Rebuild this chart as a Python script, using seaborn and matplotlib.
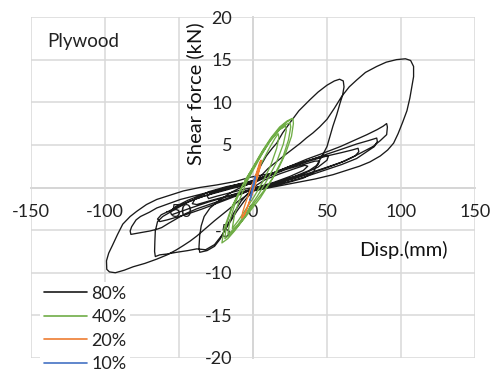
import matplotlib
matplotlib.use("Agg")
import matplotlib.pyplot as plt
import seaborn as sns
import pandas as pd
from matplotlib.ticker import FuncFormatter

# ---------------- data ----------------
series_names = ["80%", "40%", "20%", "10%"]
series_colors = ["#1a1a1a", "#70ad47", "#ed7d31", "#4472c4"]

x_ticks = [-150, -100, -50, 0, 50, 100, 150]
y_ticks = [-20, -15, -10, -5, 0, 5, 10, 15, 20]

# 80 % record: displacement (mm)
x80 = [0,
       # cycle 1
       8, 18, 28, 35, 37, 34, 25, 14, 4,
       -6, -15, -24, -30, -31, -27, -18, -8, 0,
       # cycle 2
       10, 22, 34, 42, 45, 44, 38, 28, 16, 5,
       -5, -15, -28, -38, -41, -39, -30, -18, -6, 0,
       # cycle 3
       12, 25, 38, 48, 51, 50, 44, 34, 20, 8, 0,
       -4, -8, -13, -18, -22, -26, -31, -36, -36.5, -36, -35, -33, -29, -22, -14, -6, 0,
       # cycle 4 (60 mm loop)
       3, 6, 9, 13, 16, 20, 25, 31, 38.5, 44, 50, 55, 58.5, 61, 61.5, 60.5, 59, 56.5,
       54, 52, 50, 47, 44, 40.5, 34, 24, 12, 0,
       -6, -11, -16, -21, -26, -32, -38, -44, -51.6, -58, -63, -66, -66.5, -66.3, -66,
       -64.5, -61, -57, -50, -42.6, -33, -24.5, -14, -4, 0,
       # cycle 5 (largest loop)
       5, 10, 15, 20, 26, 32, 36, 40.5, 45, 50, 55, 60, 65, 70, 76, 83.6, 90, 97, 103,
       106.5, 108.5, 108.5, 107.5, 106, 104, 101, 98, 95, 91, 86, 79, 72, 63, 54, 42,
       30, 15, 0,
       -5, -10, -16, -21, -26, -30, -34, -38, -42.6, -47, -51.6, -58, -65, -73, -81,
       -87, -93, -97, -98.8, -99, -97.5, -95, -91.5, -88, -83, -78.6, -72, -65, -56,
       -47, -36, -24.5, -12, -2,
       # cycle 6
       13.7, 25, 36, 47, 59, 68, 77, 84, 88, 90.3, 90.8, 90.3, 86, 81, 70, 59, 48, 36,
       24, 13.5, 4, 0,
       -8, -18, -28, -38, -46, -52, -57, -61.7, -65, -69.6, -76, -82.5, -83, -82, -79,
       -76, -70, -65, -57, -49, -40, -31, -20, -9, 0,
       # cycle 7
       10, 22, 35, 48, 60, 70, 78, 83.6, 84, 82, 76, 70, 60, 48, 36, 24, 12, 0,
       -10, -22, -34, -44, -52, -58, -63, -64.5, -62, -56, -48, -38, -26, -14, -4, 0,
       # cycle 8
       12, 25, 38, 50, 60, 67, 71, 71.5, 69, 62, 52, 40, 28, 15, 4,
       -8, -18, -30, -42, -50, -55, -56, -52, -44, -34, -22, -10, 0]

# 80 % record: shear force (kN)
y80 = [0,
       0.9, 1.6, 2.2, 2.6, 2.5, 2.0, 1.3, 0.6, 0.1,
       -0.2, -0.6, -1.0, -1.3, -1.0, -0.5, 0.0, 0.4, 0.7,
       1.3, 2.1, 2.7, 3.1, 3.1, 2.7, 2.0, 1.3, 0.6, 0.1,
       -0.4, -0.9, -1.5, -2.0, -1.9, -1.3, -0.5, 0.1, 0.5, 0.8,
       1.6, 2.5, 3.2, 3.7, 3.7, 3.2, 2.4, 1.6, 0.8, 0.2, -0.2,
       -0.8, -1.6, -3.0, -4.6, -6.0, -6.9, -7.4, -7.6, -7.0, -5.6, -4.5, -3.4, -2.4, -1.4, -0.5, 0.2, 0.6,
       1.8, 2.8, 3.7, 4.6, 5.2, 6.4, 7.6, 9.0, 10.3, 11.2, 12.0, 12.5, 12.7, 12.5, 11.8, 10.8, 10.0, 8.5,
       7.2, 6.0, 4.8, 3.8, 2.9, 1.7, 1.1, 0.6, 0.1, -0.4,
       -1.6, -2.8, -4.2, -5.6, -6.7, -7.3, -7.2, -7.4, -7.6, -7.8, -7.9, -8.1, -7.5, -6.3, -5.1,
       -4.0, -3.4, -3.0, -2.3, -1.6, -1.0, -0.6, -0.1, 0.35, 0.5,
       1.3, 2.2, 2.9, 3.6, 4.4, 5.2, 5.8, 6.4, 7.1, 8.0, 9.3, 10.7, 11.8, 12.6, 13.5, 14.2, 14.7, 15.0, 15.1,
       14.9, 14.2, 13.0, 12.0, 10.5, 9.0, 7.6, 6.3, 5.2, 4.4, 3.7, 3.0, 2.5, 2.0, 1.5, 1.0,
       0.6, 0.1, -0.4,
       -1.0, -1.6, -2.5, -3.2, -3.9, -4.5, -5.1, -5.7, -6.3, -6.8, -7.3, -7.9, -8.4, -8.9, -9.3,
       -9.7, -10.0, -9.9, -9.6, -8.6, -7.7, -6.8, -5.5, -4.3, -3.4, -2.8, -2.0, -1.4, -0.9,
       -0.4, 0.0, 0.3, 0.7, 1.2,
       1.7, 2.5, 3.3, 4.0, 4.8, 5.5, 6.2, 6.8, 7.2, 7.5, 7.1, 6.2, 5.5, 4.8, 3.8, 2.9, 2.2, 1.5,
       0.9, 0.35, 0.0, -0.2,
       -0.7, -1.3, -1.9, -2.5, -3.1, -3.7, -4.2, -4.7, -4.9, -5.1, -5.3, -5.5, -5.1, -4.6, -3.8,
       -3.4, -2.9, -2.4, -1.9, -1.4, -1.0, -0.6, -0.2, 0.15, 0.5,
       1.3, 2.2, 3.0, 3.8, 4.5, 5.1, 5.5, 5.8, 5.4, 4.8, 4.1, 3.4, 2.7, 2.0, 1.3, 0.7, 0.2, -0.2,
       -0.9, -1.7, -2.5, -3.1, -3.5, -3.8, -4.0, -3.7, -3.2, -2.7, -2.0, -1.3, -0.6, 0.0, 0.5, 0.7,
       1.6, 2.4, 3.1, 3.7, 4.1, 4.4, 4.6, 4.2, 3.7, 3.1, 2.5, 1.8, 1.1, 0.5, 0.0,
       -0.6, -1.1, -1.7, -2.4, -2.9, -3.2, -2.8, -2.2, -1.5, -0.8, -0.2, 0.4, 0.8]

# 40 % record
x40 = [0, 5, 11, 15, 17, 17.5, 16, 12, 7, 1, -5, -10, -14,
       -12.5, -9, -5, 0, 6, 12, 18, 22, 22.5, 20.5, 16, 10, 3, -4, -10, -15, -17,
       -15.5, -12, -7.5, -2, 4, 11, 18, 22.5, 25, 25.5, 24, 19.5, 13, 5, -3, -10, -16, -19,
       -18, -14, -9, -4, 1, 7, 13, 19, 23, 26, 27, 27.3, 26, 22, 16, 9, 1, -6, -12, -17, -21,
       -19.5, -15, -10, -5, 0, 6, 12, 18, 23, 26.5]
y40 = [0, 2.6, 4.6, 5.8, 6.3, 5.9, 4.6, 2.6, 0.8, -1.0, -2.6, -3.9, -4.8,
       -3.2, -1.4, 0.4, 2.0, 3.9, 5.6, 6.8, 7.2, 6.7, 5.1, 3.0, 1.0, -1.0, -2.8, -4.3, -5.2, -5.5,
       -3.8, -1.8, 0.0, 1.6, 3.4, 5.3, 6.8, 7.4, 7.6, 7.1, 5.6, 3.2, 1.0, -1.2, -3.0, -4.5, -5.6, -6.0,
       -4.4, -2.2, -0.4, 1.2, 2.6, 4.4, 5.9, 7.1, 7.7, 8.0, 8.1, 7.5, 6.0, 4.0, 1.8, 0.0, -1.8, -3.6, -5.0, -6.0, -6.5,
       -4.8, -2.6, -0.8, 0.9, 2.4, 4.2, 5.8, 7.1, 7.8, 8.1]

# 20 % record
x20 = [0, 2, 4, 5.2, 5, 3, 1, -1.5, -4, -6, -7.6, -7, -5, -2.5, 0, 2.5, 4.5, 5.5, 4.6, 2.2, -0.5, -3, -5.5, -7.2]
y20 = [0, 1.3, 2.4, 3.1, 2.5, 1.2, 0.0, -1.2, -2.4, -3.2, -3.6, -2.9, -1.8, -0.6, 0.6, 1.8, 2.9, 3.2, 2.4, 0.9, -0.7, -2.0, -3.1, -3.5]

# 10 % record
x10 = [0, 0.8, 1.4, 1.2, 0.4, -0.6, -1.6, -2.0, -1.6, -0.8, 0, 1.0, 1.5]
y10 = [0, 0.7, 1.2, 0.9, 0.1, -0.6, -1.3, -1.5, -1.0, -0.3, 0.3, 1.0, 1.3]

# ---------------- table for seaborn ----------------
frames = []
for name, xs, ys in zip(series_names, [x80, x40, x20, x10], [y80, y40, y20, y10]):
    frames.append(pd.DataFrame({"disp": xs, "force": ys, "series": name}))
df = pd.concat(frames, ignore_index=True)

sns.set_style("white")
plt.rcParams["font.family"] = ["Lato", "DejaVu Sans"]

W, H = 494, 371
fig = plt.figure(figsize=(W / 100, H / 100), dpi=100)
ax = fig.add_axes([31 / W, 1 - 358 / H, (475 - 31) / W, (358 - 17) / H])

palette = dict(zip(series_names, series_colors))
sns.lineplot(data=df, x="disp", y="force", hue="series", hue_order=series_names,
             palette=palette, sort=False, estimator=None, units="series",
             linewidth=0.95, ax=ax, legend=False)

ax.set_xlim(-150, 150)
ax.set_ylim(-20, 20)
ax.set_xticks(x_ticks)
ax.set_yticks(y_ticks)
ax.grid(True, color="#d9d9d9", linewidth=1.1)
ax.set_axisbelow(True)
for gl in ax.get_xgridlines() + ax.get_ygridlines():
    gl.set_clip_on(False)

for s in ["top", "right"]:
    ax.spines[s].set_visible(False)
for s in ["left", "bottom"]:
    ax.spines[s].set_position(("data", 0))
    ax.spines[s].set_color("#bfbfbf")
    ax.spines[s].set_linewidth(1.1)
    ax.spines[s].set_zorder(0.5)

ax.tick_params(axis="both", length=0, labelsize=13, labelcolor="#222222")
ax.tick_params(axis="y", pad=15)
ax.tick_params(axis="x", pad=12)
ax.yaxis.set_major_formatter(FuncFormatter(lambda v, p: "" if v == 0 else f"{v:g}"))
ax.xaxis.set_major_formatter(FuncFormatter(lambda v, p: f"{v:g}"))
ax.set_xlabel("")
ax.set_ylabel("")

fig.text(195 / W, 1 - 94 / H, "Shear force (kN)", rotation=90, ha="center", va="center",
         fontsize=14.5, color="#111111")
fig.text(403 / W, 1 - 250 / H, "Disp.(mm)", ha="center", va="center",
         fontsize=14.5, color="#111111")
fig.text(47 / W, 1 - 41 / H, "Plywood", ha="left", va="center",
         fontsize=13.5, color="#222222")

handles = [plt.Line2D([], [], color=c, linewidth=1.2) for c in series_colors]
leg = fig.legend(handles, series_names, loc="upper left",
                 bbox_to_anchor=(40 / W, 1 - 282 / H), frameon=True,
                 fontsize=13, handlelength=2.4, handletextpad=0.25,
                 labelspacing=0.42, borderpad=0.2, borderaxespad=0)
leg.get_frame().set_facecolor("white")
leg.get_frame().set_edgecolor("none")
leg.get_frame().set_alpha(1)
for t in leg.get_texts():
    t.set_color("#222222")

fig.savefig("out.png", dpi=100)
